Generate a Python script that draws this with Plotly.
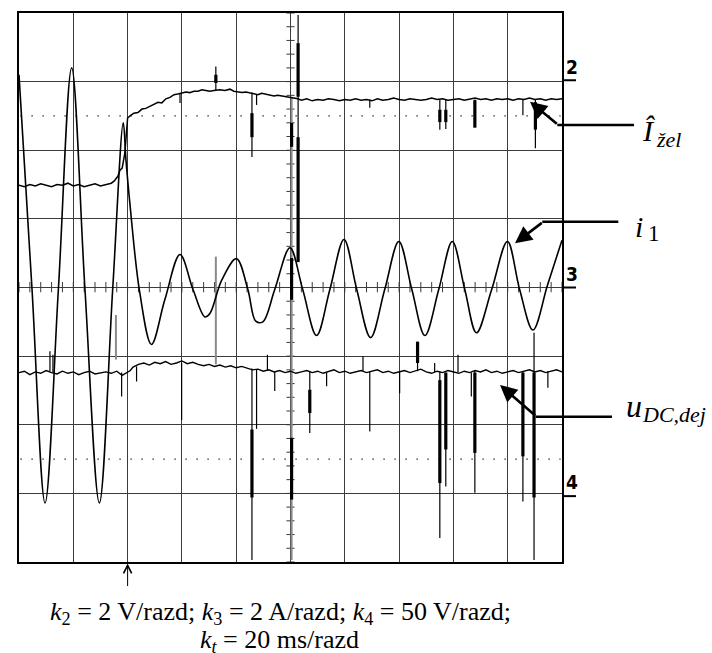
import plotly.graph_objects as go

# ---------------- data (time in ms, 20 ms/div; amplitude in screen divisions) ----------
# channel 2 : I_zel (reference current amplitude)
t_izel = [0, 2, 4, 6, 8, 10, 12, 14, 16, 18, 20, 22, 24, 26, 28, 30, 32, 34, 35, 36.4,
          37.2, 38, 39.0, 39.6, 40.0, 40.9, 42.3, 43.8, 45.3, 46.7, 48.2, 49.7, 51.2, 52.6,
          54.1, 55.6, 57.1, 58.5, 60, 61.5, 62.9, 64.4, 65.9, 67.4, 68.8, 70.3, 71.8, 74.0,
          75.8, 77.7, 79.1, 80.6, 82.1, 83.6, 85.0, 86.5, 88.0, 89.4, 90.9, 92.4, 93.9, 95.3,
          96.8, 98.3, 99.8, 101.2, 102.7, 104, 106, 108, 110, 112, 114, 116, 118, 120, 122,
          124, 126, 128, 130, 132, 134, 136, 138, 140, 142, 144, 146, 148, 150, 152, 154, 156,
          158, 160, 162, 164, 166, 168, 170, 172, 174, 176, 178, 180, 182, 184, 186, 188, 190,
          192, 194, 196, 198, 200]
y_izel = [1.49, 1.47, 1.50, 1.48, 1.51, 1.49, 1.47, 1.50, 1.49, 1.52, 1.48, 1.50, 1.47, 1.49,
          1.51, 1.48, 1.50, 1.52, 1.55, 1.62, 1.71, 1.74, 1.96, 2.20, 2.47, 2.50, 2.54, 2.55,
          2.60, 2.61, 2.64, 2.67, 2.70, 2.69, 2.75, 2.77, 2.81, 2.82, 2.83, 2.85, 2.84, 2.86,
          2.86, 2.88, 2.87, 2.86, 2.87, 2.88, 2.87, 2.89, 2.86, 2.85, 2.84, 2.85, 2.84, 2.82,
          2.81, 2.83, 2.82, 2.81, 2.79, 2.80, 2.79, 2.78, 2.78, 2.76, 2.75, 2.73, 2.75, 2.72,
          2.74, 2.73, 2.75, 2.74, 2.72, 2.74, 2.73, 2.75, 2.73, 2.74, 2.72, 2.75, 2.73, 2.74,
          2.76, 2.74, 2.73, 2.75, 2.74, 2.73, 2.74, 2.76, 2.74, 2.75, 2.73, 2.74, 2.75, 2.73,
          2.74, 2.76, 2.74, 2.75, 2.73, 2.75, 2.74, 2.75, 2.73, 2.75, 2.74, 2.76, 2.74, 2.75,
          2.73, 2.75, 2.74, 2.75]

# channel 3 : i1 (phase current)
t_i1 = [0, 4.8, 9.6, 14.5, 19.4, 24.3, 29.6, 34.5, 38.4, 39.4, 40.9, 44.5, 48.8, 53.7, 59.3,
        64.1, 68.5, 70.3, 74.7, 80.1, 84.3, 87.2, 89.8, 94.2, 99.8, 104.5, 109.6, 114.5,
        119.7, 124.4, 129.5, 134.7, 139.9, 144.7, 149.5, 154.6, 159.6, 164.2, 168.5, 174.1,
        179.9, 184.4, 189.3, 194.7, 200]
y_i1 = [3.10, -0.03, -3.14, -0.03, 3.20, -0.03, -3.14, -0.03, 2.40, 1.86, 1.20, -0.08, -0.83,
        -0.18, 0.48, -0.03, -0.43, -0.38, 0.11, 0.42, -0.03, -0.49, -0.50, -0.03, 0.58, -0.03,
        -0.70, -0.03, 0.70, -0.03, -0.73, -0.03, 0.67, -0.03, -0.70, -0.03, 0.67, -0.03, -0.66,
        -0.03, 0.67, -0.03, -0.62, 0.04, 0.69]

# channel 4 : u_DC,dej (DC-link voltage)
t_udc = [0, 2, 4, 6, 8, 10, 12, 14, 16, 18, 20, 22, 24, 26, 28, 30, 32, 34, 36, 38, 40, 41,
         42, 44, 46, 48, 50, 52, 54, 56, 58, 60, 62, 64, 66, 68, 70, 72, 74, 76, 78, 80, 82,
         84, 86, 88, 90, 92, 94, 96, 98, 100, 102, 104, 106, 108, 110, 112, 114, 116, 118,
         120, 122, 124, 126, 128, 130, 132, 134, 136, 138, 140, 142, 144, 146, 148, 150, 152,
         154, 156, 158, 160, 162, 164, 166, 168, 170, 172, 174, 176, 178, 180, 182, 184, 186,
         188, 190, 192, 194, 196, 198, 200]
y_udc = [-1.24, -1.22, -1.27, -1.23, -1.25, -1.21, -1.24, -1.26, -1.22, -1.25, -1.23, -1.27,
         -1.24, -1.22, -1.26, -1.24, -1.23, -1.25, -1.22, -1.28, -1.24, -1.21, -1.16, -1.12,
         -1.10, -1.13, -1.09, -1.11, -1.08, -1.12, -1.10, -1.07, -1.11, -1.09, -1.12, -1.14,
         -1.12, -1.15, -1.13, -1.16, -1.14, -1.17, -1.15, -1.18, -1.20, -1.19, -1.22, -1.20,
         -1.23, -1.21, -1.24, -1.22, -1.25, -1.23, -1.21, -1.24, -1.22, -1.25, -1.23, -1.20,
         -1.24, -1.22, -1.25, -1.23, -1.21, -1.24, -1.22, -1.20, -1.24, -1.22, -1.25, -1.23,
         -1.21, -1.24, -1.22, -1.19, -1.23, -1.25, -1.22, -1.24, -1.21, -1.23, -1.25, -1.22,
         -1.24, -1.21, -1.23, -1.20, -1.24, -1.22, -1.25, -1.23, -1.21, -1.24, -1.22, -1.20,
         -1.23, -1.21, -1.24, -1.22, -1.20, -1.23]

# switching glitches: time, start level, end level (thin black)
glitch_t = [59.3, 72.5, 85.8, 87.5, 129.2, 155.0, 157.2, 167.9, 185.6, 190.2,
            102.8,
            11.4, 12.5, 37.8, 43.3, 59.9, 85.8, 87.5, 91.5, 94.2, 107.1, 113.3, 126.7, 129.2,
            140.2, 146.8, 153.1, 155.0, 157.2, 161.7, 166.6, 167.9, 185.6, 189.7, 194.8]
glitch_y0 = [2.82, 2.87, 2.84, 2.82, 2.74, 2.74, 2.74, 2.74, 2.74, 2.74,
             0.37,
             -1.22, -1.24, -1.24, -1.15, -1.10, -1.18, -1.19, -1.21, -1.23, -1.22, -1.24, -1.22,
             -1.22, -1.23, -1.22, -1.23, -1.22, -1.24, -1.23, -1.24, -1.21, -1.22, -0.66, -1.22]
glitch_y1 = [2.69, 3.22, 1.90, 2.66, 2.62, 2.30, 2.31, 2.33, 2.51, 2.03,
             3.97,
             -0.93, -0.98, -1.59, -1.37, -1.93, -3.97, -2.06, -0.98, -1.51, -2.12, -1.44, -1.00,
             -2.10, -1.54, -0.79, -1.10, -3.65, -2.90, -0.98, -1.59, -2.99, -3.12, -3.97, -1.46]

# heavy (dense) parts of the glitches
heavy_t = [72.5, 85.8, 155.0, 157.2, 167.9, 190.2, 102.8, 102.8, 100.4, 100.4, 100.4,
           85.8, 107.1, 146.8, 155.0, 157.2, 167.9, 185.6, 189.7]
heavy_y0 = [3.10, 2.54, 2.59, 2.59, 2.73, 2.70, 3.56, 2.19, 2.40, 0.43, -2.19,
            -2.07, -1.49, -0.79, -1.35, -1.24, -1.24, -1.24, -1.24]
heavy_y1 = [2.98, 2.19, 2.41, 2.41, 2.33, 2.30, 2.78, 0.37, 2.05, -0.18, -3.09,
            -3.06, -1.83, -1.10, -2.85, -2.36, -2.41, -2.46, -3.06]

# faint (grey) glitch traces
faint_t = [35.7, 72.5, 100.4]
faint_y0 = [-0.40, 0.45, 2.78]
faint_y1 = [-1.05, -1.12, -3.97]

trigger_level = 2.0
trigger_time = 40
dotted_levels = [2.5, -2.5]
channel_refs = {"2": 3.02, "3": 0.0, "4": -3.04}

# ---------------- figure ----------------
def segs(ts, y0s, y1s):
    xs, ys = [], []
    for t, a, b in zip(ts, y0s, y1s):
        xs += [t, t, None]
        ys += [a, b, None]
    return xs, ys

fig = go.Figure()

# graticule ticks on the centre lines
tx, ty = [], []
for k in range(-20, 21):
    v = k * 0.2
    tx += [100 - 1.5, 100 + 1.5, None]
    ty += [v, v, None]
for k in range(0, 51):
    t = k * 4
    tx += [t, t, None]
    ty += [-0.07, 0.08, None]
fig.add_trace(go.Scatter(x=tx, y=ty, mode="lines", line=dict(color="#3a3a3a", width=1),
                         hoverinfo="skip"))

for lv in dotted_levels:
    fig.add_trace(go.Scatter(x=[0.5, 199.5], y=[lv, lv], mode="lines",
                             line=dict(color="#333", width=1.3, dash="1.5px,9.5px"),
                             hoverinfo="skip"))

fx, fy = segs(faint_t, faint_y0, faint_y1)
fig.add_trace(go.Scatter(x=fx, y=fy, mode="lines", line=dict(color="#8a8a8a", width=2)))

fig.add_trace(go.Scatter(x=t_izel, y=y_izel, mode="lines", line=dict(color="black", width=1.5)))
fig.add_trace(go.Scatter(x=t_udc, y=y_udc, mode="lines", line=dict(color="black", width=1.4)))
fig.add_trace(go.Scatter(x=t_i1, y=y_i1, mode="lines", line_shape="spline",
                         line=dict(color="black", width=1.6)))

gx, gy = segs(glitch_t, glitch_y0, glitch_y1)
fig.add_trace(go.Scatter(x=gx, y=gy, mode="lines", line=dict(color="black", width=1.2)))
hx, hy = segs(heavy_t, heavy_y0, heavy_y1)
fig.add_trace(go.Scatter(x=hx, y=hy, mode="lines", line=dict(color="black", width=3.2)))

# trigger-level markers
fig.add_trace(go.Scatter(x=[-1.7], y=[trigger_level], mode="markers", cliponaxis=False,
                         marker=dict(symbol="triangle-right-open", size=11,
                                     line=dict(color="#333", width=1))))
fig.add_trace(go.Scatter(x=[202.1], y=[trigger_level], mode="markers", cliponaxis=False,
                         marker=dict(symbol="triangle-left-open", size=10,
                                     line=dict(color="#333", width=1))))

L, R, T, B = 19, 150, 13, 91
W, H = 712, 653
PW, PH = W - L - R, H - T - B


def PX(x):
    return (x - L) / PW


def PY(y):
    return (T + PH - y) / PH


ann = []
shapes = []
serif = "Liberation Serif, Times New Roman, serif"

# channel reference markers on the right edge
for name, lvl in channel_refs.items():
    shapes.append(dict(type="line", xref="paper", yref="y", x0=1.0, x1=PX(576),
                       y0=lvl, y1=lvl, line=dict(color="black", width=2)))
    ann.append(dict(text="<b>%s</b>" % name, xref="paper", yref="y", x=PX(572), y=lvl + 0.2,
                    xanchor="center", yanchor="middle", showarrow=False,
                    font=dict(family="Liberation Sans Narrow, Arial Narrow, DejaVu Sans Condensed, sans-serif",
                              size=19, color="black")))

# label arrows
arrows = [((530, 101.7), (558.3, 125), 634),
          ((515, 243.3), (543.3, 221.7), 618.3),
          ((500, 385), (536.7, 416.7), 612)]
for (hx_, hy_), (tx_, ty_), xend in arrows:
    ann.append(dict(text="", xref="paper", yref="paper", x=PX(hx_), y=PY(hy_),
                    ax=tx_ - hx_, ay=ty_ - hy_, showarrow=True, arrowhead=2,
                    arrowsize=1.3, arrowwidth=2.6, arrowcolor="black", standoff=0))
    shapes.append(dict(type="line", xref="paper", yref="paper", x0=PX(tx_ - 1), x1=PX(xend),
                       y0=PY(ty_), y1=PY(ty_), line=dict(color="black", width=2.6)))

# label texts
def lab(text, x, base, size, italic=True, anchor="left"):
    ann.append(dict(text=("<i>%s</i>" % text) if italic else text, xref="paper", yref="paper",
                    x=PX(x), y=PY(base - 0.33 * size), xanchor=anchor, yanchor="middle",
                    showarrow=False, font=dict(family=serif, size=size, color="black")))

lab("Î", 640, 140, 30)
lab("žel", 654, 146.5, 22)
lab("i", 633, 236, 30)
lab("1", 646, 241, 23, italic=False)
lab("u", 624, 416.7, 32)
lab("DC,dej", 640, 421.7, 22)

# trigger position arrow
ann.append(dict(text="", xref="x", yref="paper", x=trigger_time, y=PY(563.5),
                ax=0, ay=24, showarrow=True, arrowhead=5, arrowsize=1.6, arrowwidth=1,
                arrowcolor="black", standoff=0))

# scale caption (two centred lines)
lab("<i>k</i><sub>2</sub> = 2 V/razd; <i>k</i><sub>3</sub> = 2 A/razd; "
    "<i>k</i><sub>4</sub> = 50 V/razd;", 280, 622, 26, italic=False, anchor="center")
lab("<i>k<sub>t</sub></i> = 20 ms/razd", 279, 650, 26, italic=False, anchor="center")

fig.update_layout(
    width=W, height=H, margin=dict(l=L, r=R, t=T, b=B, pad=0),
    paper_bgcolor="white", plot_bgcolor="white", showlegend=False,
    annotations=ann, shapes=shapes,
    xaxis=dict(range=[0, 200], dtick=20, tick0=0, showgrid=True, gridcolor="#3c3c3c",
               gridwidth=1, zeroline=False, showticklabels=False, ticks="",
               showline=True, mirror=True, linecolor="black", linewidth=1.5),
    yaxis=dict(range=[-4, 4], dtick=1, tick0=0, showgrid=True, gridcolor="#3c3c3c",
               gridwidth=1, zeroline=False, showticklabels=False, ticks="",
               showline=True, mirror=True, linecolor="black", linewidth=1.5),
)

fig.write_html("out.html", config={"displayModeBar": False},
               post_script="document.body.style.margin='0';")
